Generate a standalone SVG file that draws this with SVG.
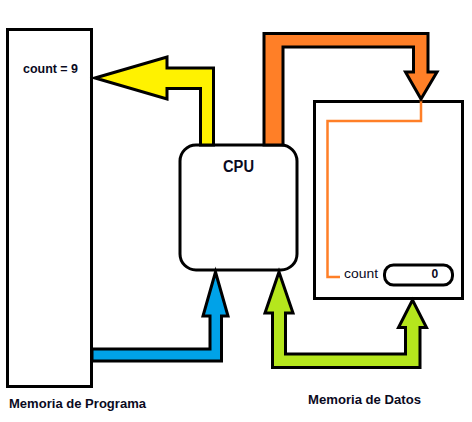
<svg xmlns="http://www.w3.org/2000/svg" width="472" height="422" viewBox="0 0 472 422">
<style>
.box{fill:#fff;stroke:#000;stroke-width:3}
.arrow{stroke:#000;stroke-width:3;stroke-linejoin:miter}
.t{font-family:"Liberation Sans","Open Sans",Arial,sans-serif;fill:#0a0a1e}
.b{font-weight:bold}
</style>
<rect width="472" height="422" fill="#fff"/>
<g id="memoria-programa">
<rect class="box" x="7.5" y="29.5" width="84" height="357"/>
<text class="t b" x="23" y="73" font-size="12" textLength="55" lengthAdjust="spacingAndGlyphs">count = 9</text>
<text class="t b" x="9" y="408" font-size="13" textLength="137" lengthAdjust="spacingAndGlyphs">Memoria de Programa</text>
</g>
<g id="cpu">
<rect class="box" x="180" y="145" width="117" height="125" rx="16"/>
<text class="t b" x="223" y="172" font-size="16" textLength="31" lengthAdjust="spacingAndGlyphs">CPU</text>
</g>
<g id="memoria-datos">
<rect class="box" x="314.5" y="101.5" width="148" height="197"/>
<polyline points="421,99 421,121 327.5,121 327.5,277 340,277" fill="none" stroke="#ff7f27" stroke-width="2.5"/>
<text class="t" x="344" y="278" font-size="12" textLength="34" lengthAdjust="spacingAndGlyphs">count</text>
<rect class="box" x="384.5" y="265" width="68" height="20" rx="9"/>
<text class="t b" x="431.5" y="278" font-size="12">0</text>
<text class="t b" x="308" y="404" font-size="13" textLength="113" lengthAdjust="spacingAndGlyphs">Memoria de Datos</text>
</g>
<g id="connectors">
<polygon class="arrow" fill="#fff200" points="95,78 167,57 167,68 213.5,68 213.5,145 200.5,145 200.5,88.5 167,88.5 167,99"/>
<polygon class="arrow" fill="#ff7f27" points="264,145 264,33.5 428,33.5 428,72 437,72 421,99 405.5,72 413.5,72 413.5,47 283,47 283,145"/>
<polygon class="arrow" fill="#00a2e8" points="92,349 210,349 210,316 203,316 215.5,272 228,316 221.5,316 221.5,361 92,361"/>
<polygon class="arrow" fill="#b5e61d" points="279,272 293,313 285.5,313 285.5,354 405.5,354 405.5,327.5 398.5,327.5 412.5,300 426.5,327.5 420,327.5 420,367.5 272.5,367.5 272.5,313 265,313"/>
</g>
</svg>
